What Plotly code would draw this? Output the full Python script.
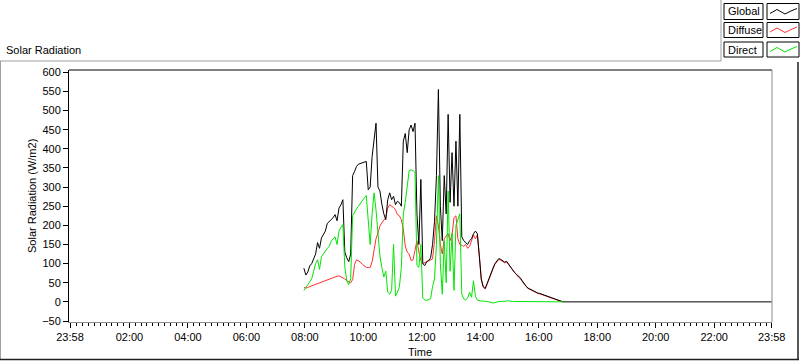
import plotly.graph_objects as go

# ---- data (minutes since midnight, 4-minute samples from 07:58) ----
start_min = 478
step_min = 4

global_vals = [
    88, 70, 78, 94, 100, 111, 125, 155, 140, 167,
    178, 185, 205, 210, 215, 220, 228, 212, 245, 254,
    267, 130, 115, 105, 125, 330, 341, 354, 360, 362,
    364, 365, 367, 293, 300, 380, 432, 467, 300, 290,
    255, 230, 215, 267, 285, 267, 276, 254, 263, 259,
    250, 420, 440, 390, 450, 462, 445, 467, 230, 150,
    320, 100, 95, 105, 108, 115, 150, 210, 330, 555,
    250, 160, 330, 230, 490, 260, 390, 250, 420, 250,
    490, 170, 160, 155, 150, 160, 165, 178, 185, 178,
    125, 60, 40, 35, 48, 63, 78, 88, 100, 108,
    113, 111, 107, 104, 106, 98, 92, 84, 77, 72,
    67, 63, 55, 47, 41, 36, 33, 30, 27, 25,
    23, 22, 20, 18, 16, 15, 13, 11, 10, 8,
    6, 4, 2, 0,
]
diffuse_vals = [
    38, 36, 38, 40, 42, 44, 46, 48, 50, 52,
    55, 57, 59, 61, 63, 65, 66, 67, 68, 66,
    64, 60, 55, 52, 50, 58, 98, 110, 108, 104,
    98, 94, 90, 90, 90, 105, 135, 165, 180, 198,
    207, 213, 220, 245, 254, 250, 247, 240, 228, 225,
    215, 190, 146, 130, 125, 108, 110, 135, 160, 130,
    108, 100, 102, 104, 106, 108, 112, 160, 225, 200,
    150, 125, 165, 172, 178, 160, 175, 220, 225, 165,
    150, 148, 145, 150, 140, 145, 160, 175, 165, 175,
    122, 58, 38, 34, 46, 61, 76, 86, 98, 106,
    111, 109, 106, 102, 104, 97, 90, 83, 76, 70,
    65, 61, 53, 45, 40, 35, 32, 29, 26, 24,
    22, 21, 19, 17, 15, 14, 12, 10, 9, 7,
    5, 3, 1, 0,
]
direct_vals = [
    30, 38, 45, 55, 60, 80, 100, 110, 85, 118,
    125, 135, 140, 145, 158, 165, 170, 150, 185, 195,
    202, 90, 55, 45, 60, 225, 235, 243, 250, 258,
    265, 272, 278, 200, 150, 230, 285, 240, 180, 120,
    90, 65, 80, 25, 20, 30, 150, 15, 25, 40,
    90, 230, 260, 300, 343, 345, 343, 338, 95, 90,
    150, 10, 5, 4, 6, 8, 40, 60, 150, 330,
    100, 20, 160, 50, 290, 80, 180, 30, 200, 215,
    230, 20, 8, 5, 10, 25, 12, 55, 15, 5,
    3, 2, 2, 2, 1, 0, -2, -3, -2, 0,
    1, 1, 1, 1, 2, 3, 1, 1, 1, 1,
    1, 1, 1, 1, 1, 1, 1, 1, 1, 1,
    1, 1, 1, 1, 1, 1, 0, 0, 0, 0,
    0, 0, 0, 0,
]
end_min = 1438  # 23:58, global stays at zero till the end

tick_vals = [-2, 120, 240, 360, 480, 600, 720, 840, 960, 1080, 1200, 1320, 1438]
tick_text = ["23:58", "02:00", "04:00", "06:00", "08:00", "10:00", "12:00",
             "14:00", "16:00", "18:00", "20:00", "22:00", "23:58"]
y_ticks = [-50, 0, 50, 100, 150, 200, 250, 300, 350, 400, 450, 500, 550, 600]
series_names = ["Global", "Diffuse", "Direct"]
series_colors = ["#000000", "#ff3030", "#00e600"]

times = [start_min + step_min * i for i in range(len(global_vals))]
g_times = times + [end_min]
g_vals = global_vals + [0]

FONT = "Liberation Sans, Arial, sans-serif"
W, H = 800, 361
L, R, T, B = 69, 772, 70, 322


def pxx(x):
    return (x - L) / (R - L)


def pyy(y):
    return (B - y) / (B - T)


fig = go.Figure()
fig.add_trace(go.Scatter(x=times, y=diffuse_vals, mode="lines", name="Diffuse",
                         line=dict(color=series_colors[1], width=1)))
fig.add_trace(go.Scatter(x=g_times, y=g_vals, mode="lines", name="Global",
                         line=dict(color=series_colors[0], width=1)))
fig.add_trace(go.Scatter(x=times, y=direct_vals, mode="lines", name="Direct",
                         line=dict(color=series_colors[2], width=1)))

shapes = []
# outer frame (light top/left, dark bottom/right)
gray = "#a0a0a0"
shapes.append(dict(type="line", xref="paper", yref="paper", x0=pxx(0.5), x1=pxx(0.5),
                   y0=pyy(360), y1=pyy(61), line=dict(color=gray, width=1)))
shapes.append(dict(type="line", xref="paper", yref="paper", x0=pxx(0), x1=pxx(721),
                   y0=pyy(61), y1=pyy(61), line=dict(color=gray, width=1)))
shapes.append(dict(type="line", xref="paper", yref="paper", x0=pxx(721), x1=pxx(721),
                   y0=pyy(61), y1=pyy(0), line=dict(color=gray, width=1)))
shapes.append(dict(type="line", xref="paper", yref="paper", x0=pxx(0), x1=pxx(799),
                   y0=pyy(359.5), y1=pyy(359.5), line=dict(color="#202020", width=1.5)))
shapes.append(dict(type="line", xref="paper", yref="paper", x0=pxx(798), x1=pxx(798),
                   y0=pyy(359.5), y1=pyy(62), line=dict(color="#202020", width=1.5)))
# plot frame: top black, right gray
shapes.append(dict(type="line", xref="paper", yref="paper", x0=0, x1=1, y0=1, y1=1,
                   line=dict(color="black", width=1)))
shapes.append(dict(type="line", xref="paper", yref="paper", x0=1, x1=1, y0=0, y1=1,
                   line=dict(color="#8c8c8c", width=1)))

annotations = []
# legend boxes
rows = [(3.5, 19.5), (22.5, 37.5), (42, 57)]
for (ya, yb), name, col in zip(rows, series_names, series_colors):
    shapes.append(dict(type="rect", xref="paper", yref="paper",
                       x0=pxx(724), x1=pxx(763), y0=pyy(yb), y1=pyy(ya),
                       line=dict(color="black", width=1), fillcolor="white"))
    shapes.append(dict(type="rect", xref="paper", yref="paper",
                       x0=pxx(767), x1=pxx(799), y0=pyy(yb), y1=pyy(ya),
                       line=dict(color="black", width=1), fillcolor="white"))
    yc = (ya + yb) / 2
    pts = [(770, yc + 2), (777, yc - 2), (785, yc + 2.5), (791, yc - 0.5), (797, yc - 3)]
    path = "M " + " L ".join(f"{pxx(a):.5f},{pyy(b):.5f}" for a, b in pts)
    shapes.append(dict(type="path", xref="paper", yref="paper", path=path,
                       line=dict(color=col, width=1)))
    annotations.append(dict(text=name, xref="paper", yref="paper", x=pxx(725.5),
                            y=pyy(yc), xanchor="left", yanchor="middle", showarrow=False,
                            font=dict(family=FONT, size=11, color="black")))

annotations.append(dict(text="Solar Radiation", xref="paper", yref="paper", x=pxx(4),
                        y=pyy(50), xanchor="left", yanchor="middle", showarrow=False,
                        font=dict(family=FONT, size=11, color="black")))
annotations.append(dict(text="Solar Radiation (W/m2)", xref="paper", yref="paper",
                        x=pxx(32), y=pyy(196), xanchor="center", yanchor="middle",
                        textangle=-90, showarrow=False,
                        font=dict(family=FONT, size=11, color="black")))
annotations.append(dict(text="Time", xref="paper", yref="paper", x=pxx(420),
                        y=pyy(352), xanchor="center", yanchor="middle", showarrow=False,
                        font=dict(family=FONT, size=11, color="black")))

fig.update_layout(
    width=W, height=H, autosize=False,
    margin=dict(l=L, r=W - R, t=T, b=H - B, pad=0),
    paper_bgcolor="white", plot_bgcolor="white",
    showlegend=False,
    font=dict(family=FONT, size=11, color="black"),
    shapes=shapes, annotations=annotations,
    xaxis=dict(range=[-4.05, 1438.6], tickmode="array", tickvals=tick_vals,
               ticktext=tick_text, ticks="outside", ticklen=5, tickwidth=1,
               tickcolor="black", showgrid=False, zeroline=False,
               showline=True, linecolor="#8c8c8c", linewidth=1,
               tickfont=dict(family=FONT, size=11, color="black"),
               minor=dict(tickmode="linear", tick0=0, dtick=12, ticks="outside",
                          ticklen=3, tickcolor="black", showgrid=False)),
    yaxis=dict(range=[-52.6, 606.0], tickmode="array", tickvals=y_ticks,
               ticks="outside", ticklen=5, tickwidth=1, tickcolor="black",
               showgrid=False, zeroline=False, showline=True, linecolor="black",
               linewidth=1, tickfont=dict(family=FONT, size=11, color="black")),
)

fig.write_html(
    "out.html",
    config={"displayModeBar": False, "staticPlot": True},
    post_script="document.body.style.margin='0px';document.body.style.overflow='hidden';",
)
